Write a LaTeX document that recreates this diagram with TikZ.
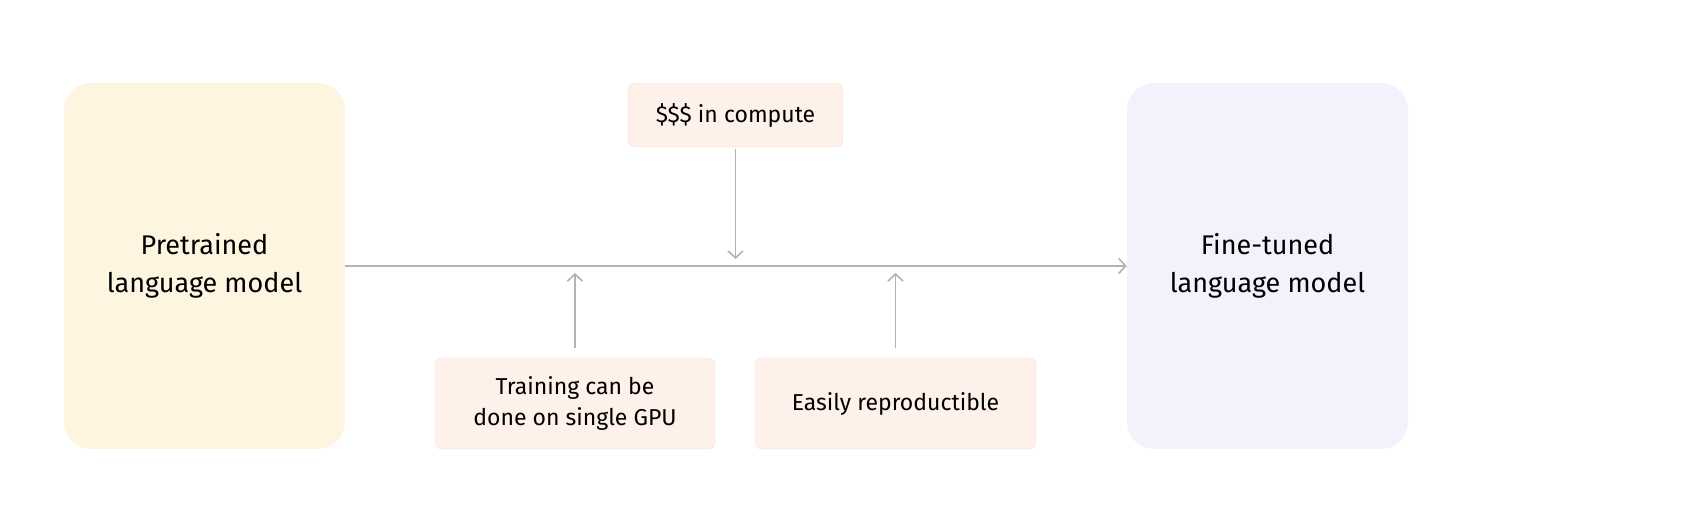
\documentclass[tikz,border=0pt]{standalone}
\usepackage{fontspec}
\setmainfont{Fira Sans}
\usepackage{tikz}
\usetikzlibrary{positioning, arrows.meta}
\definecolor{pretrainedColor}{HTML}{FDF5E0}
\definecolor{finetunedColor}{HTML}{F4F1FC}
\definecolor{noteColor}{HTML}{FEF1E9}
\definecolor{noteBorder}{HTML}{FBE0D0}
\definecolor{arrowColor}{HTML}{B3B3B3}
\tikzstyle{modelStyle} = [rounded corners = 27pt, minimum width = 281pt, minimum height = 366pt, align=center, font=\fontsize{27}{38}\selectfont]
\tikzstyle{noteStyle} = [fill=noteColor, draw=noteBorder, rounded corners = 7pt, align=center, font=\fontsize{23}{30.5}\selectfont]
\tikzstyle{flowLine} = [color=arrowColor, line width=1.6pt, -{Straight Barb[length=7pt, width=15pt]}]

\begin{document}
\begin{tikzpicture}[x = 1pt, y = -1pt]
        \useasboundingbox (0,0) rectangle (1705,509);
        % models
        \node [modelStyle, fill=pretrainedColor] (pretrained) at (204.5,266) {Pretrained\\language model};
        \node [modelStyle, fill=finetunedColor] (finetuned) at (1267.5,266) {Fine-tuned\\language model};

        % notes
        \node [noteStyle, minimum width = 215pt, minimum height = 64pt] (compute) at (735.5,115) {\$\$\$ in compute};
        \node [noteStyle, minimum width = 280pt, minimum height = 91pt] (training) at (575,403.5) {Training can be\\done on single GPU};
        \node [noteStyle, minimum width = 281pt, minimum height = 91pt] (reproducible) at (895.5,403.5) {Easily reproductible};

        \coordinate (computeEnd) at (735.5,259);
        \coordinate (trainingEnd) at (575,273);
        \coordinate (reproducibleEnd) at (895.5,273);

        \draw [flowLine] (pretrained) -- (finetuned);
        \draw [flowLine, shorten <= 2pt] (compute) -- (computeEnd);
        \draw [flowLine, shorten <= 10pt] (training) -- (trainingEnd);
        \draw [flowLine, shorten <= 10pt] (reproducible) -- (reproducibleEnd);
      \end{tikzpicture}
\end{document}
